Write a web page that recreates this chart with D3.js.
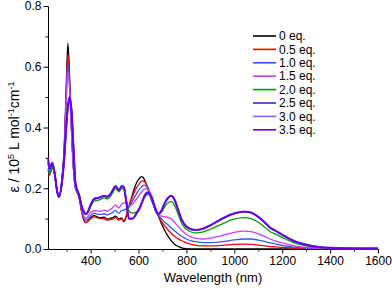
<!DOCTYPE html>
<html>
<head>
<meta charset="utf-8">
<script src="https://cdnjs.cloudflare.com/ajax/libs/d3/7.8.5/d3.min.js"></script>
<style>
  body { margin: 0; background: #fff; }
  svg { display: block; font-family: "Liberation Sans", Arial, sans-serif; }
  .axis path, .axis line { stroke: #000; }
  .axis text { font-size: 12px; fill: #000; font-family: "Liberation Sans", Arial, sans-serif; }
</style>
</head>
<body>
<svg id="chart" width="392" height="291"></svg>
<script>
// wavelength grid (nm) shared by all series
const wavelengths = [222, 230, 240, 250, 260, 268, 280, 290, 298, 305, 312, 320, 328, 337, 345, 352, 362, 372, 380, 390,
  400, 415, 430, 445, 456, 470, 480, 492, 504, 518, 530, 538, 548, 560, 575, 590, 605, 615, 625, 640,
  655, 668, 681, 695, 710, 725, 738, 750, 765, 780, 800, 820, 840, 870, 900, 950, 1000, 1040, 1070, 1100,
  1130, 1150, 1170, 1200, 1250, 1300, 1350, 1400, 1500, 1600];

const eq0 = [0.26, 0.25, 0.27, 0.245, 0.19, 0.172, 0.23, 0.34, 0.53, 0.678, 0.57, 0.40, 0.27, 0.20, 0.185, 0.17, 0.125, 0.095, 0.087, 0.093,
  0.103, 0.11, 0.105, 0.103, 0.105, 0.098, 0.1, 0.103, 0.108, 0.098, 0.102, 0.09, 0.105, 0.14, 0.18, 0.215, 0.234, 0.238, 0.228, 0.195,
  0.16, 0.135, 0.112, 0.085, 0.06, 0.04, 0.026, 0.016, 0.009, 0.004, 0.001, 0, 0, 0, 0, 0, 0, 0, 0, 0,
  0, 0, 0, 0, 0, 0, 0, 0, 0, 0];

const eq05 = [0.24, 0.245, 0.268, 0.243, 0.19, 0.172, 0.228, 0.33, 0.51, 0.64, 0.55, 0.40, 0.27, 0.20, 0.185, 0.168, 0.125, 0.095, 0.087, 0.092,
  0.1, 0.106, 0.102, 0.1, 0.1, 0.095, 0.097, 0.098, 0.104, 0.095, 0.1, 0.092, 0.108, 0.14, 0.172, 0.2, 0.217, 0.224, 0.222, 0.2,
  0.165, 0.138, 0.113, 0.092, 0.075, 0.061, 0.05, 0.042, 0.034, 0.027, 0.02, 0.015, 0.012, 0.01, 0.01, 0.012, 0.015, 0.016, 0.015, 0.013,
  0.01, 0.008, 0.007, 0.005, 0.003, 0.002, 0.001, 0.001, 0.001, 0.001];

const eq10 = [0.265, 0.25, 0.27, 0.245, 0.19, 0.172, 0.226, 0.325, 0.5, 0.61, 0.54, 0.395, 0.27, 0.2, 0.186, 0.17, 0.13, 0.1, 0.094, 0.1,
  0.11, 0.117, 0.115, 0.114, 0.116, 0.112, 0.116, 0.12, 0.127, 0.117, 0.127, 0.128, 0.132, 0.14, 0.158, 0.18, 0.198, 0.206, 0.21, 0.198,
  0.17, 0.142, 0.115, 0.1, 0.088, 0.078, 0.068, 0.06, 0.05, 0.042, 0.033, 0.027, 0.024, 0.021, 0.021, 0.024, 0.03, 0.033, 0.033, 0.029,
  0.024, 0.02, 0.017, 0.012, 0.006, 0.003, 0.002, 0.001, 0.001, 0.001];

const eq15 = [0.28, 0.26, 0.275, 0.245, 0.19, 0.172, 0.224, 0.32, 0.49, 0.585, 0.53, 0.39, 0.27, 0.2, 0.187, 0.172, 0.135, 0.107, 0.1, 0.108,
  0.12, 0.126, 0.125, 0.124, 0.128, 0.125, 0.13, 0.136, 0.145, 0.135, 0.148, 0.152, 0.152, 0.142, 0.148, 0.163, 0.18, 0.19, 0.198, 0.195,
  0.175, 0.145, 0.117, 0.108, 0.106, 0.104, 0.098, 0.088, 0.075, 0.062, 0.048, 0.04, 0.035, 0.033, 0.036, 0.045, 0.055, 0.059, 0.057, 0.05,
  0.04, 0.033, 0.027, 0.02, 0.01, 0.005, 0.003, 0.002, 0.001, 0.001];

const eq20 = [0.25, 0.255, 0.275, 0.245, 0.19, 0.172, 0.218, 0.3, 0.4, 0.47, 0.496, 0.455, 0.34, 0.215, 0.19, 0.176, 0.14, 0.12, 0.113, 0.122,
  0.14, 0.158, 0.16, 0.165, 0.168, 0.165, 0.17, 0.185, 0.2, 0.188, 0.2, 0.198, 0.165, 0.125, 0.118, 0.122, 0.135, 0.152, 0.17, 0.18,
  0.165, 0.135, 0.115, 0.12, 0.14, 0.153, 0.156, 0.145, 0.115, 0.085, 0.065, 0.056, 0.053, 0.056, 0.065, 0.083, 0.098, 0.103, 0.1, 0.088,
  0.07, 0.057, 0.05, 0.038, 0.02, 0.01, 0.005, 0.003, 0.002, 0.001];

const eq25 = [0.285, 0.265, 0.28, 0.248, 0.19, 0.172, 0.218, 0.3, 0.4, 0.465, 0.498, 0.458, 0.34, 0.215, 0.192, 0.178, 0.142, 0.122, 0.115, 0.125,
  0.145, 0.165, 0.168, 0.172, 0.175, 0.172, 0.178, 0.193, 0.207, 0.194, 0.207, 0.205, 0.16, 0.1, 0.1, 0.115, 0.135, 0.155, 0.175, 0.186,
  0.168, 0.135, 0.115, 0.125, 0.152, 0.17, 0.175, 0.163, 0.13, 0.097, 0.074, 0.065, 0.063, 0.067, 0.078, 0.1, 0.117, 0.123, 0.12, 0.106,
  0.085, 0.07, 0.061, 0.047, 0.026, 0.014, 0.007, 0.004, 0.002, 0.002];

const eq30 = [0.29, 0.268, 0.282, 0.249, 0.19, 0.172, 0.218, 0.3, 0.4, 0.468, 0.5, 0.46, 0.34, 0.215, 0.192, 0.178, 0.142, 0.122, 0.115, 0.125,
  0.145, 0.165, 0.168, 0.172, 0.175, 0.172, 0.178, 0.193, 0.207, 0.194, 0.207, 0.205, 0.16, 0.1, 0.1, 0.115, 0.135, 0.155, 0.175, 0.186,
  0.168, 0.135, 0.115, 0.125, 0.152, 0.17, 0.175, 0.163, 0.13, 0.097, 0.074, 0.065, 0.063, 0.067, 0.078, 0.1, 0.117, 0.123, 0.12, 0.106,
  0.085, 0.07, 0.061, 0.047, 0.026, 0.014, 0.007, 0.004, 0.002, 0.002];

const eq35 = [0.3, 0.27, 0.284, 0.25, 0.19, 0.172, 0.218, 0.3, 0.4, 0.47, 0.5, 0.46, 0.34, 0.215, 0.192, 0.178, 0.142, 0.122, 0.115, 0.125,
  0.145, 0.165, 0.168, 0.172, 0.175, 0.172, 0.178, 0.193, 0.207, 0.194, 0.207, 0.205, 0.16, 0.1, 0.1, 0.115, 0.135, 0.155, 0.175, 0.186,
  0.168, 0.135, 0.115, 0.125, 0.152, 0.17, 0.175, 0.163, 0.13, 0.097, 0.074, 0.065, 0.063, 0.067, 0.078, 0.1, 0.117, 0.123, 0.12, 0.106,
  0.085, 0.07, 0.061, 0.047, 0.026, 0.014, 0.007, 0.004, 0.002, 0.002];

const seriesNames = ["0 eq.", "0.5 eq.", "1.0 eq.", "1.5 eq.", "2.0 eq.", "2.5 eq.", "3.0 eq.", "3.5 eq."];
const seriesValues = [eq0, eq05, eq10, eq15, eq20, eq25, eq30, eq35];
const seriesColors = ["#000000", "#ff0000", "#3556f5", "#c83cff", "#00a000", "#2a2ad8", "#7f66ff", "#6a00e6"];
const seriesWidths = [1.3, 1.3, 1.3, 1.3, 1.3, 1.8, 1.3, 1.9];

const xTicks = [400, 600, 800, 1000, 1200, 1400, 1600];
const xMinorTicks = [300, 500, 700, 900, 1100, 1300, 1500];
const yTicks = [0, 0.2, 0.4, 0.6, 0.8];
const yMinorTicks = [0.1, 0.3, 0.5, 0.7];

const svg = d3.select("#chart");
const plot = { left: 48, right: 378, top: 6, bottom: 249 };

const x = d3.scaleLinear().domain([222, 1600]).range([plot.left, plot.right]);
const y = d3.scaleLinear().domain([0, 0.8]).range([plot.bottom, plot.top]);

// axes
svg.append("g").attr("class", "axis")
    .attr("transform", `translate(0,${plot.bottom})`)
    .call(d3.axisBottom(x).tickValues(xMinorTicks).tickSize(2.5).tickSizeOuter(0).tickFormat(""));
svg.append("g").attr("class", "axis")
    .attr("transform", `translate(0,${plot.bottom})`)
    .call(d3.axisBottom(x).tickValues(xTicks).tickSize(4.5).tickSizeOuter(0).tickPadding(3).tickFormat(d3.format("d")));

svg.append("g").attr("class", "axis")
    .attr("transform", `translate(${plot.left},0)`)
    .call(d3.axisLeft(y).tickValues(yMinorTicks).tickSize(2.5).tickSizeOuter(0).tickFormat(""));
svg.append("g").attr("class", "axis")
    .attr("transform", `translate(${plot.left},0)`)
    .call(d3.axisLeft(y).tickValues(yTicks).tickSize(4.5).tickSizeOuter(0).tickPadding(2).tickFormat(d3.format(".1f")));

// spectra
const line = d3.line()
    .x((d, i) => x(wavelengths[i]))
    .y(d => y(d))
    .curve(d3.curveMonotoneX);

svg.append("g").selectAll("path")
    .data(seriesValues)
    .enter().append("path")
    .attr("d", d => line(d))
    .attr("fill", "none")
    .attr("stroke", (d, i) => seriesColors[i])
    .attr("stroke-width", (d, i) => seriesWidths[i])
    .attr("stroke-linejoin", "round");

// legend
const legend = svg.append("g").selectAll("g")
    .data(seriesNames)
    .enter().append("g")
    .attr("transform", (d, i) => `translate(253,${36 + i * 13.4})`);

legend.append("line")
    .attr("x1", 0).attr("x2", 23)
    .attr("stroke", (d, i) => seriesColors[i])
    .attr("stroke-width", 1.6);

legend.append("text")
    .attr("x", 26)
    .attr("dy", "0.35em")
    .style("font-size", "12px")
    .text(d => d);

// axis titles
svg.append("text")
    .attr("x", 213).attr("y", 282)
    .attr("text-anchor", "middle")
    .style("font-size", "13px")
    .text("Wavelength (nm)");

const yTitle = svg.append("text")
    .attr("transform", "translate(19,137) rotate(-90)")
    .attr("text-anchor", "middle")
    .style("font-size", "14px");
yTitle.append("tspan").text("\u03b5 / 10");
yTitle.append("tspan").attr("dy", -5).style("font-size", "9px").text("5");
yTitle.append("tspan").attr("dy", 5).text(" L mol");
yTitle.append("tspan").attr("dy", -5).style("font-size", "9px").text("-1");
yTitle.append("tspan").attr("dy", 5).text("cm");
yTitle.append("tspan").attr("dy", -5).style("font-size", "9px").text("-1");
</script>
</body>
</html>
